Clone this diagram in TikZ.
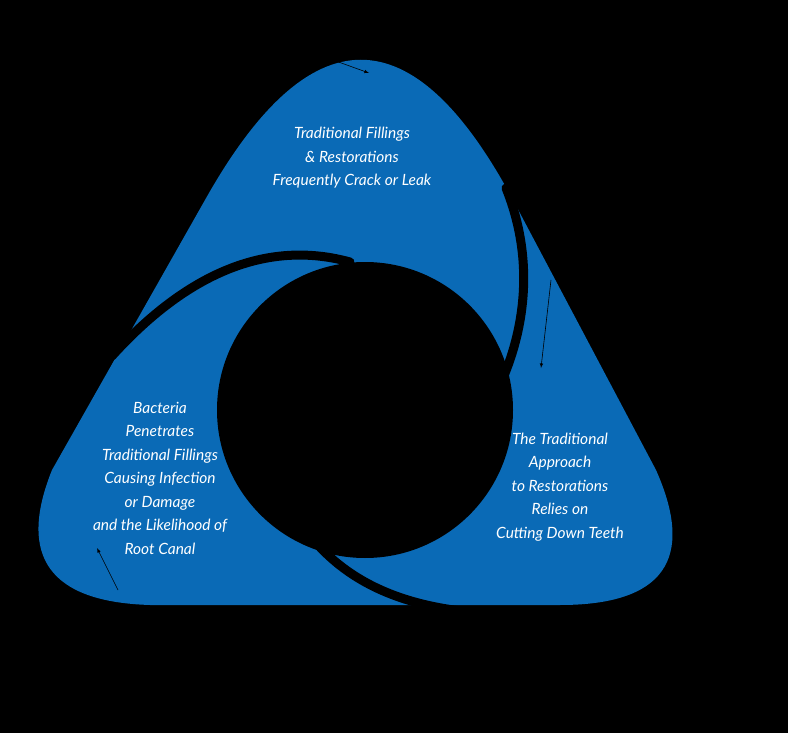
\documentclass[tikz,border=0pt]{standalone}
\usepackage{fontspec}
\setmainfont{Lato}
\definecolor{cblue}{HTML}{0A6AB6}
\begin{document}
\begin{tikzpicture}[x=1pt,y=-1pt,
  lbl/.style={text=white,font=\itshape\fontsize{15.5}{23.5}\selectfont,align=center},
  gap/.style={draw=black,line width=9pt,line cap=round},
  ptr/.style={draw=black,line width=0.6pt,-latex}]
\fill[black] (0,0) rectangle (788,733);
\useasboundingbox (0,0) rectangle (788,733);
\fill[cblue] (150,605) -- (560,605) .. controls (663,605) and (696,560) .. (656,470)
  -- (513,200) .. controls (413,13) and (310,13) .. (205,200)
  -- (52,470) .. controls (17,557) and (50,602) .. (150,605) -- cycle;
\draw[gap] (112,356) .. controls (190,270) and (270,240) .. (350,262);
\draw[gap] (506,188) .. controls (535,260) and (525,330) .. (500,385);
\draw[gap] (290,505) .. controls (330,580) and (400,605) .. (470,612);
\node[circle,fill=black,minimum size=296pt,inner sep=0pt] (hub) at (365,410) {};
\coordinate (a1) at (333,60); \coordinate (a2) at (369,73);
\coordinate (b1) at (551,280); \coordinate (b2) at (541,368);
\coordinate (c1) at (97,548); \coordinate (c2) at (118,590);
\draw[ptr] (a1) -- (a2);
\draw[ptr] (b1) -- (b2);
\draw[ptr] (c2) -- (c1);
\node[lbl] (top) at (352,158) {Traditional Fillings\\\& Restorations\\Frequently Crack or Leak};
\node[lbl] (right) at (560,487) {The Traditional\\Approach\\to Restorations\\Relies on\\Cutting Down Teeth};
\node[lbl] (left) at (160,478) {Bacteria\\Penetrates\\Traditional Fillings\\Causing Infection\\or Damage\\and the Likelihood of\\Root Canal};
\end{tikzpicture}
\end{document}
